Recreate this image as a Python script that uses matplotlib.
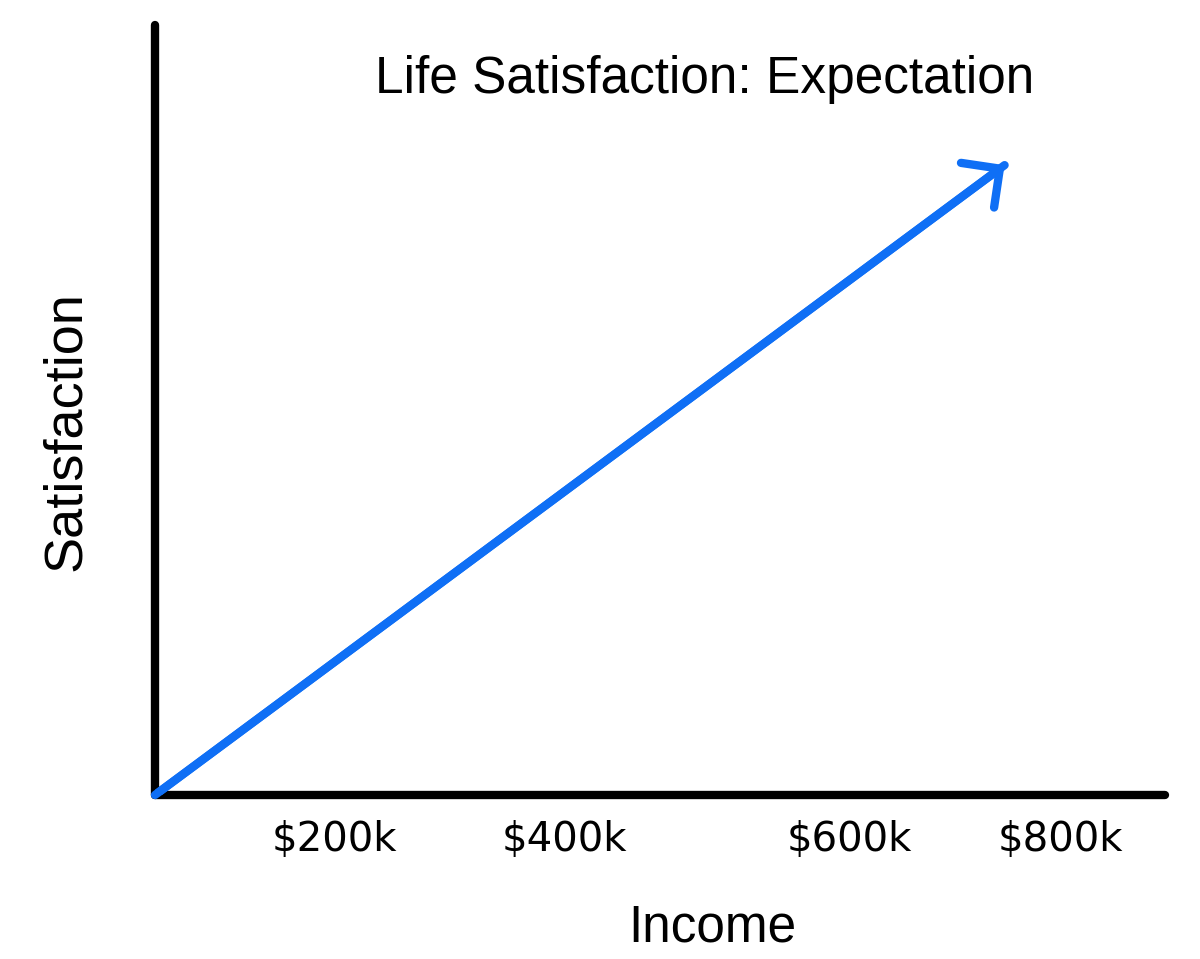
import matplotlib
matplotlib.use("Agg")
import matplotlib.pyplot as plt

# ---- data ----
income = [0, 751]            # income (k$) along the expectation line
satisfaction = [0, 0.818]    # satisfaction (relative)
tick_positions = [159, 362, 614, 800]
tick_labels = ["$200k", "$400k", "$600k", "$800k"]
title = "Life Satisfaction: Expectation"
xlabel = "Income"
ylabel = "Satisfaction"

W, H = 1200, 959
fig = plt.figure(figsize=(W / 100, H / 100), dpi=100)
ax = fig.add_axes([155 / W, (H - 795) / H, 1010 / W, (795 - 25) / H])
ax.set_xlim(0, 892.8)
ax.set_ylim(0, 1)

blue = "#0f6ff5"
ax.plot(income, satisfaction, color=blue, lw=6, solid_capstyle="round", zorder=3)
ax.annotate("", xy=(income[1], satisfaction[1]), xytext=(income[0], satisfaction[0]),
            arrowprops=dict(arrowstyle="->,head_length=1.0,head_width=1.0",
                            color=blue, lw=6, capstyle="round", joinstyle="round",
                            shrinkA=0, shrinkB=0, mutation_scale=20), zorder=3)

for s in ["top", "right"]:
    ax.spines[s].set_visible(False)
for s in ["left", "bottom"]:
    ax.spines[s].set_linewidth(6)
    ax.spines[s].set_color("black")
    ax.spines[s].set_capstyle("round")

ax.set_yticks([])
ax.set_xticks(tick_positions)
ax.set_xticklabels(tick_labels, fontsize=29, family="DejaVu Sans")
ax.tick_params(axis="x", length=0, pad=18)

ax.set_xlabel(xlabel, fontsize=37, family="Liberation Sans")
ax.set_ylabel(ylabel, fontsize=39, family="Liberation Sans")
ax.xaxis.set_label_coords((712 - 155) / 1010, (795 - 903) / 770)
ax.yaxis.set_label_coords((91 - 155) / 1010, (795 - 431) / 770)
fig.text(705 / W, 1 - 93 / H, title, fontsize=37, family="Liberation Sans",
         ha="center", va="baseline")

fig.savefig("out.png", dpi=100)
